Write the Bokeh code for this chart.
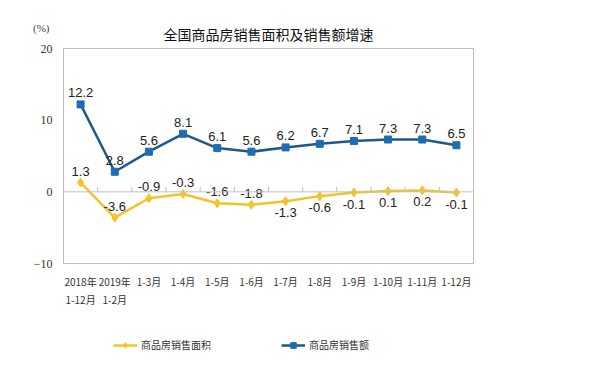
from bokeh.plotting import figure
from bokeh.layouts import column
from bokeh.models import FixedTicker, Legend, LegendItem, Span
from bokeh.core.properties import value
from bokeh.embed import file_html
from bokeh.resources import INLINE

title_text = "全国商品房销售面积及销售额增速"
unit_text = "(%)"
series_names = ["商品房销售面积", "商品房销售额"]
categories = ["2018年\n1-12月", "2019年\n1-2月", "1-3月", "1-4月", "1-5月", "1-6月",
              "1-7月", "1-8月", "1-9月", "1-10月", "1-11月", "1-12月"]
area_growth = [1.3, -3.6, -0.9, -0.3, -1.6, -1.8, -1.3, -0.6, -0.1, 0.1, 0.2, -0.1]
sales_growth = [12.2, 2.8, 5.6, 8.1, 6.1, 5.6, 6.2, 6.7, 7.1, 7.3, 7.3, 6.5]
y_ticks = [-10, 0, 10, 20]
area_label_side = ["above"] * 6 + ["below"] * 6

CJK = "Noto Sans CJK SC"
NUM = "Liberation Sans"
YELLOW = "#f2c42a"
BLUE_LINE = "#1d5a8a"
BLUE_MARK = "#1f6bb0"
GRID = "#bfbfbf"

W = 602
HEAD_H = 43
MAIN_H = 267
LEG_H = 55

n = len(categories)
xs = list(range(n))


def plain(fig):
    fig.grid.visible = False
    fig.outline_line_color = None
    fig.background_fill_color = "white"
    fig.border_fill_color = "white"


# ---- header strip: title, and the unit placed where the y-axis labels sit ----
h = figure(width=W, height=HEAD_H, output_backend="svg", toolbar_location=None,
           x_range=(-0.5, n - 0.5), y_range=(0, HEAD_H),
           min_border_top=0, min_border_bottom=0, min_border_left=63, min_border_right=129)
plain(h)
h.xaxis.visible = False
unit_pos = HEAD_H - 27
h.yaxis.ticker = FixedTicker(ticks=[unit_pos])
h.yaxis.major_label_overrides = {unit_pos: unit_text}
h.yaxis.axis_line_color = None
h.yaxis.major_tick_line_color = None
h.yaxis.minor_tick_line_color = None
h.yaxis.major_label_standoff = 8
h.yaxis.major_label_text_font = "Liberation Serif"
h.yaxis.major_label_text_font_size = "11px"
h.yaxis.major_label_text_color = "#444444"
h.text(x=[(n - 1) / 2], y=[HEAD_H - 33], text=[title_text], text_align="center",
       text_baseline="middle", text_font=value(CJK), text_font_size="14px",
       text_color="#111111")

# ---- main chart ----
p = figure(width=W, height=MAIN_H, output_backend="svg", toolbar_location=None,
           x_range=(-0.5, n - 0.5), y_range=(-10, 20),
           min_border_left=63, min_border_right=129, min_border_top=5, min_border_bottom=47)
p.title = None
plain(p)
p.outline_line_color = GRID
p.outline_line_width = 1

p.yaxis.ticker = FixedTicker(ticks=y_ticks)
p.yaxis.axis_line_color = None
p.yaxis.major_tick_line_color = None
p.yaxis.minor_tick_line_color = None
p.yaxis.major_label_text_font = "Liberation Serif"
p.yaxis.major_label_text_font_size = "12px"
p.yaxis.major_label_text_color = "#333333"
p.yaxis.major_label_standoff = 5

p.xaxis.ticker = FixedTicker(ticks=xs)
p.xaxis.major_label_overrides = {i: c for i, c in enumerate(categories)}
p.xaxis.axis_line_color = None
p.xaxis.major_tick_line_color = None
p.xaxis.minor_tick_line_color = None
p.xaxis.major_label_text_font = CJK
p.xaxis.major_label_text_font_size = "10px"
p.xaxis.major_label_text_color = "#333333"
p.xaxis.major_label_standoff = 4

# zero line with category boundary ticks
p.add_layout(Span(location=0, dimension="width", line_color=GRID, line_width=1))
bx = [i + 0.5 for i in range(n - 1)]
p.segment(x0=bx, y0=[0] * len(bx), x1=bx, y1=[0.7] * len(bx), line_color=GRID, line_width=1)

p.line(xs, area_growth, line_color=YELLOW, line_width=2.5)
p.scatter(xs, area_growth, marker="diamond", size=9, fill_color=YELLOW, line_color=YELLOW)
p.line(xs, sales_growth, line_color=BLUE_LINE, line_width=2.5)
p.scatter(xs, sales_growth, marker="square", size=7, fill_color=BLUE_MARK, line_color=BLUE_MARK)

lbl = dict(text_align="center", text_font=value(NUM), text_font_size="13px", text_color="#222222")
p.text(xs, sales_growth, text=[f"{v:.1f}" for v in sales_growth],
       text_baseline="bottom", y_offset=-7, **lbl)
above = [i for i in xs if area_label_side[i] == "above"]
below = [i for i in xs if area_label_side[i] == "below"]
p.text([xs[i] for i in above], [area_growth[i] for i in above],
       text=[f"{area_growth[i]:.1f}" for i in above], text_baseline="bottom", y_offset=-7, **lbl)
p.text([xs[i] for i in below], [area_growth[i] for i in below],
       text=[f"{area_growth[i]:.1f}" for i in below], text_baseline="top", y_offset=7, **lbl)

# ---- legend strip (frame aligned with the chart's frame) ----
q = figure(width=W, height=LEG_H, output_backend="svg", toolbar_location=None,
           x_range=(-0.5, n - 0.5), y_range=(-10, 20), min_border=0)
plain(q)
q.axis.visible = False
la = q.line(xs, area_growth, line_color=YELLOW, line_width=2.5, visible=False)
ma = q.scatter(xs, area_growth, marker="diamond", size=9, fill_color=YELLOW, line_color=YELLOW,
               visible=False)
ls = q.line(xs, sales_growth, line_color=BLUE_LINE, line_width=2.5, visible=False)
ms = q.scatter(xs, sales_growth, marker="square", size=7, fill_color=BLUE_MARK,
               line_color=BLUE_MARK, visible=False)
legend = Legend(items=[LegendItem(label=series_names[0], renderers=[la, ma]),
                       LegendItem(label=series_names[1], renderers=[ls, ms])],
                orientation="horizontal", location=(50, 13),
                label_text_font=CJK, label_text_font_size="10px", label_text_color="#333333",
                glyph_width=24, glyph_height=14, label_height=14, label_standoff=4, spacing=70,
                border_line_color=None, background_fill_alpha=0, padding=2, margin=0,
                inactive_fill_alpha=0)
q.add_layout(legend, "center")

layout = column(h, p, q, spacing=0)
open("out.html", "w").write(file_html(layout, INLINE))
